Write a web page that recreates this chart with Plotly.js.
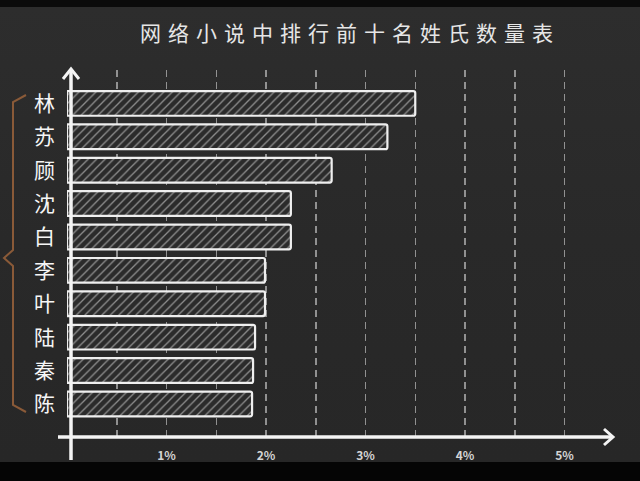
<!DOCTYPE html>
<html>
<head>
<meta charset="utf-8">
<script src="https://cdn.plot.ly/plotly-3.0.1.min.js"></script>
<style>
  html, body { margin: 0; padding: 0; }
  body {
    width: 640px; height: 481px; overflow: hidden;
    background: linear-gradient(to bottom, #0b0b0b 0px, #0b0b0b 7px, #2d2d2d 7px, #292929 240px, #272727 462px, #050505 462px, #050505 481px);
  }
  #chart { width: 640px; height: 481px; }
  .gtitle { letter-spacing: 7px; }
</style>
</head>
<body>
<div id="chart"></div>
<script>
// ---- data ----
var surnames = ['林', '苏', '顾', '沈', '白', '李', '叶', '陆', '秦', '陈'];
var percents = [3.50, 3.22, 2.66, 2.25, 2.25, 1.99, 1.99, 1.89, 1.87, 1.86];
var tickValues = [0.5, 1, 1.5, 2, 2.5, 3, 3.5, 4, 4.5, 5];
var tickLabels = ['', '1%', '', '2%', '', '3%', '', '4%', '', '5%'];
var chartTitle = '网络小说中排行前十名姓氏数量表';

// ---- layout geometry (pixels) ----
var W = 640, H = 481;
var L = 67, R = 625, T = 70, B = 437;
var pxPerUnit = 99.5;
var xMax = (R - L) / pxPerUnit;
function px(x) { return (x - L) / (R - L); }
function py(y) { return (B - y) / (B - T); }
function path(pts) {
  return pts.map(function (p, i) { return (i ? 'L' : 'M') + px(p[0]).toFixed(5) + ',' + py(p[1]).toFixed(5); }).join(' ');
}

var font = '"Noto Sans CJK SC", "Noto Sans", sans-serif';

var trace = {
  type: 'bar',
  orientation: 'h',
  x: percents,
  y: surnames,
  width: 0.74,
  marker: {
    color: '#2b2b2b',
    line: { color: '#efefef', width: 2.2 },
    pattern: { shape: '/', fgcolor: '#8e8e8e', bgcolor: '#2b2b2b', size: 6, solidity: 0.22 }
  },
  hoverinfo: 'none'
};

var white = '#f4f4f4';
var shapes = [
  // y axis line
  { type: 'line', xref: 'paper', yref: 'paper', x0: px(71), x1: px(71), y0: py(460), y1: py(69), line: { color: white, width: 3.5 }, layer: 'above' },
  // y arrow
  { type: 'path', xref: 'paper', yref: 'paper', path: path([[63, 79], [71, 69], [79, 79]]), line: { color: white, width: 3 }, layer: 'above' },
  // x axis line
  { type: 'line', xref: 'paper', yref: 'paper', x0: px(58), x1: px(612), y0: py(437), y1: py(437), line: { color: white, width: 3.5 }, layer: 'above' },
  // x arrow
  { type: 'path', xref: 'paper', yref: 'paper', path: path([[604, 429], [613, 437], [604, 445]]), line: { color: white, width: 3 }, layer: 'above' },
  // bracket
  { type: 'path', xref: 'paper', yref: 'paper', path: path([[26, 95], [13, 102], [13, 250], [4, 258], [13, 266], [13, 405], [26, 412]]), line: { color: '#8a5a38', width: 2 }, layer: 'above' }
];

var layout = {
  width: W, height: H,
  margin: { l: L, r: W - R, t: T, b: H - B, pad: 0 },
  paper_bgcolor: 'rgba(0,0,0,0)',
  plot_bgcolor: 'rgba(0,0,0,0)',
  showlegend: false,
  barcornerradius: 2,
  title: {
    text: chartTitle,
    font: { family: font, size: 21, color: '#e6e6e6' },
    x: 0.547, xref: 'container', xanchor: 'center',
    y: 1 - 34 / H, yref: 'container', yanchor: 'middle'
  },
  xaxis: {
    range: [0, xMax],
    tickvals: tickValues,
    ticktext: tickLabels,
    showgrid: true,
    gridcolor: 'rgba(215,215,215,0.6)',
    gridwidth: 1.5,
    griddash: '7px,5px',
    zeroline: false,
    showline: false,
    ticks: '',
    ticklabelstandoff: 10,
    tickfont: { family: font, size: 12, color: '#d4d4d4', weight: 'bold' },
    fixedrange: true
  },
  yaxis: {
    type: 'category',
    categoryorder: 'array',
    categoryarray: surnames,
    range: [9.99, -1.0],
    showgrid: false,
    zeroline: false,
    showline: false,
    ticks: '',
    ticklabelstandoff: 11,
    tickfont: { family: font, size: 21, color: '#f6f6f6' },
    fixedrange: true
  },
  shapes: shapes
};

Plotly.newPlot('chart', [trace], layout, { staticPlot: true, displayModeBar: false });
</script>
</body>
</html>
